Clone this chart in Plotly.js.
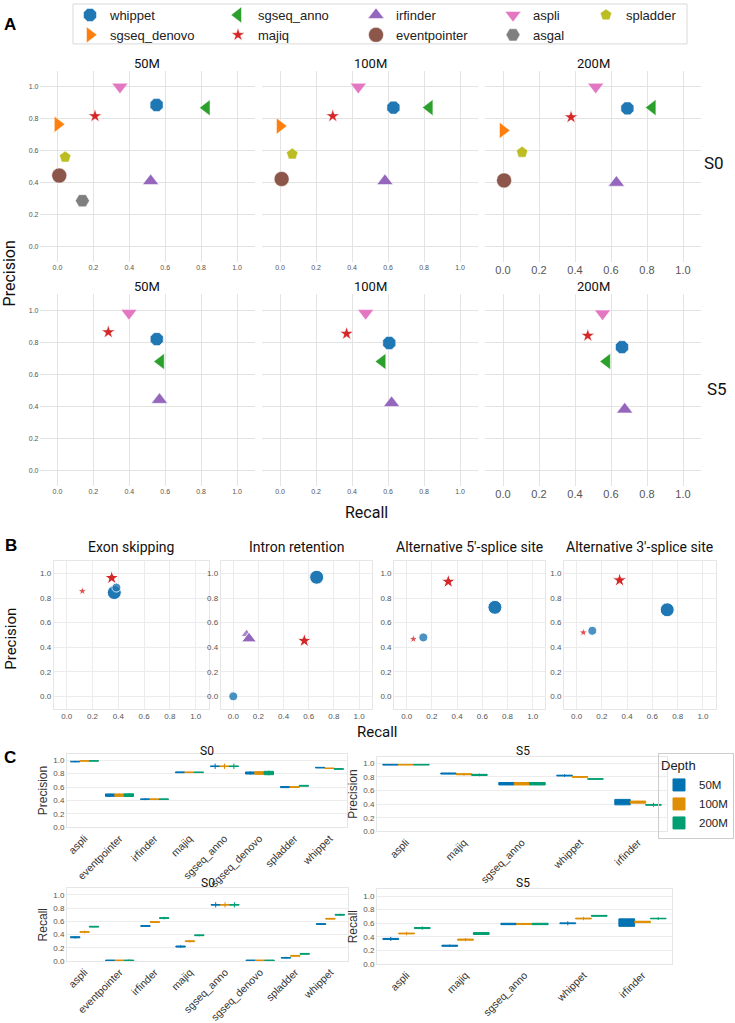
<!DOCTYPE html>
<html>
<head>
<meta charset="utf-8">
<script src="https://cdn.plot.ly/plotly-3.0.1.min.js"></script>
<style>body{margin:0;background:#fff}</style>
</head>
<body>
<div id="fig" style="width:735px;height:1023px"></div>
<script>
// ---- panel A data (order of tools, null = tool not in that run) ----
const tools = ['whippet','sgseq_denovo','sgseq_anno','majiq','irfinder','eventpointer','aspli','asgal','spladder']
const depths = ['50M','100M','200M']

const recallS0_50M     = [0.552, 0.002, 0.83, 0.209, 0.519, 0.01, 0.348, 0.139, 0.043]
const precisionS0_50M  = [0.886, 0.765, 0.869, 0.817, 0.41, 0.444, 1.0, 0.287, 0.56]
const recallS0_100M    = [0.63, 0.0, 0.83, 0.293, 0.583, 0.009, 0.435, null, 0.068]
const precisionS0_100M = [0.87, 0.754, 0.87, 0.817, 0.41, 0.423, 1.0, null, 0.579]
const recallS0_200M    = [0.691, 0.0, 0.83, 0.378, 0.63, 0.006, 0.515, null, 0.106]
const precisionS0_200M = [0.865, 0.727, 0.87, 0.81, 0.40, 0.414, 1.0, null, 0.59]

const recallS5_50M     = [0.553, null, 0.575, 0.283, 0.568, null, 0.398, null, null]
const precisionS5_50M  = [0.82, null, 0.68, 0.864, 0.44, null, 0.983, null, null]
const recallS5_100M    = [0.607, null, 0.568, 0.37, 0.62, null, 0.476, null, null]
const precisionS5_100M = [0.796, null, 0.68, 0.854, 0.42, null, 0.983, null, null]
const recallS5_200M    = [0.661, null, 0.577, 0.471, 0.676, null, 0.553, null, null]
const precisionS5_200M = [0.77, null, 0.68, 0.842, 0.38, null, 0.98, null, null]

// ---- panel B data ----
const esTool = ['majiq','majiq','whippet','whippet']
const esSet  = ['small','large','large','small']
const esRecall    = [0.121, 0.349, 0.369, 0.385]
const esPrecision = [0.857, 0.965, 0.845, 0.886]

const irTool = ['whippet','whippet','irfinder','irfinder','majiq','majiq']
const irSet  = ['large','small','small','large','small','large']
const irRecall    = [0.663, 0.0, 0.106, 0.125, 0.56, 0.565]
const irPrecision = [0.97, 0.0, 0.507, 0.47, 0.46, 0.453]

const a5Tool = ['majiq','whippet','whippet','majiq']
const a5Set  = ['large','large','small','small']
const a5Recall    = [0.33, 0.70, 0.132, 0.053]
const a5Precision = [0.935, 0.725, 0.48, 0.467]

const a3Tool = ['majiq','whippet','whippet','majiq']
const a3Set  = ['large','large','small','small']
const a3Recall    = [0.34, 0.717, 0.124, 0.053]
const a3Precision = [0.946, 0.705, 0.534, 0.52]

// ---- panel C data: [50M, 100M, 200M] ----
const s0Tools = ['aspli','eventpointer','irfinder','majiq','sgseq_anno','sgseq_denovo','spladder','whippet']
const s5Tools = ['aspli','majiq','sgseq_anno','whippet','irfinder']

const precS0Median = [[0.98,0.48,0.42,0.82,0.91,0.81,0.60,0.89],[0.99,0.48,0.42,0.82,0.91,0.81,0.60,0.88],[0.99,0.48,0.42,0.82,0.91,0.81,0.62,0.87]]
const precS0Box    = [[0.004,0.018,0.003,0.006,0.004,0.015,0.008,0.004],[0.003,0.018,0.003,0.004,0.004,0.02,0.006,0.003],[0.003,0.02,0.003,0.004,0.004,0.025,0.006,0.004]]
const precS0Whisk  = [[0.012,0.025,0.015,0.008,0.04,0.025,0.01,0.006],[0.005,0.025,0.015,0.008,0.04,0.03,0.008,0.004],[0.005,0.028,0.004,0.006,0.04,0.035,0.008,0.012]]

const precS5Median = [[0.98,0.85,0.70,0.82,0.43],[0.98,0.84,0.70,0.80,0.43],[0.98,0.83,0.70,0.77,0.39]]
const precS5Box    = [[0.005,0.008,0.018,0.006,0.04],[0.004,0.008,0.018,0.006,0.015],[0.004,0.008,0.018,0.004,0.006]]
const precS5Whisk  = [[0.006,0.01,0.02,0.02,0.045],[0.005,0.02,0.02,0.008,0.02],[0.005,0.02,0.02,0.005,0.03]]

const recS0Median = [[0.36,0.01,0.53,0.22,0.85,0.01,0.05,0.56],[0.44,0.01,0.59,0.30,0.85,0.01,0.08,0.64],[0.52,0.01,0.65,0.39,0.85,0.01,0.11,0.70]]
const recS0Box    = [[0.008,0.006,0.006,0.008,0.004,0.006,0.004,0.006],[0.004,0.006,0.006,0.006,0.004,0.006,0.006,0.006],[0.006,0.006,0.006,0.006,0.004,0.006,0.006,0.006]]
const recS0Whisk  = [[0.02,0.006,0.008,0.02,0.04,0.006,0.015,0.012],[0.02,0.006,0.008,0.02,0.04,0.006,0.008,0.008],[0.01,0.015,0.02,0.015,0.04,0.006,0.008,0.015]]

const recS5Median = [[0.37,0.27,0.59,0.60,0.61],[0.45,0.36,0.59,0.67,0.62],[0.53,0.45,0.59,0.71,0.67]]
const recS5Box    = [[0.008,0.008,0.01,0.006,0.055],[0.006,0.008,0.008,0.006,0.01],[0.008,0.015,0.01,0.006,0.004]]
const recS5Whisk  = [[0.03,0.02,0.012,0.03,0.06],[0.025,0.025,0.01,0.025,0.012],[0.025,0.02,0.01,0.008,0.02]]

// ---- styles ----
const toolStyle = {
  whippet:      {color:'#1f77b4', symbol:'octagon', size:14},
  sgseq_denovo: {color:'#ff7f0e', symbol:'triangle-right', size:14},
  sgseq_anno:   {color:'#2ca02c', symbol:'triangle-left', size:14},
  majiq:        {color:'#d62728', symbol:'star', size:10},
  irfinder:     {color:'#9467bd', symbol:'triangle-up', size:14},
  eventpointer: {color:'#8c564b', symbol:'circle', size:15},
  aspli:        {color:'#e377c2', symbol:'triangle-down', size:14},
  asgal:        {color:'#7f7f7f', symbol:'hexagon2', size:14},
  spladder:     {color:'#bcbd22', symbol:'pentagon', size:12}
}
const bSize = {whippet:{large:14, small:9}, majiq:{large:11, small:7}, irfinder:{large:13, small:10}}
const depthColor = ['#0173b2','#de8f05','#029e73']

const W = 735, H = 1023
const fx = p => p / W
const fy = p => 1 - p / H
const TICK = 'Liberation Sans, Arial, sans-serif'
const TITLE = 'Roboto, Liberation Sans, sans-serif'

const data = []
const layout = {
  width: W, height: H,
  margin: {l:0, r:0, t:0, b:0},
  paper_bgcolor: 'white', plot_bgcolor: 'white',
  font: {family: TICK, color: '#222'},
  boxmode: 'group', boxgap: 0.2, boxgroupgap: 0,
  annotations: [], shapes: []
}

// ---- panel A ----
const aPanels = [
  [recallS0_50M, precisionS0_50M], [recallS0_100M, precisionS0_100M], [recallS0_200M, precisionS0_200M],
  [recallS5_50M, precisionS5_50M], [recallS5_100M, precisionS5_100M], [recallS5_200M, precisionS5_200M]
]
const aCols = [[39.5,255], [262,478], [485,701]]
const aRows = [[69,261], [293,485]]

aPanels.forEach(([rec, prec], p) => {
  const n = p + 1
  const col = p % 3, row = Math.floor(p / 3)
  tools.forEach((tool, i) => {
    if (rec[i] === null) return
    const st = toolStyle[tool]
    data.push({
      type: 'scatter', mode: 'markers',
      x: [rec[i]], y: [prec[i]],
      xaxis: 'x' + n, yaxis: 'y' + n,
      name: tool, legendgroup: tool, showlegend: p === 0,
      legend: i < 2 ? 'legend' : 'legend' + (Math.floor(i / 2) + 1),
      marker: {symbol: st.symbol, color: st.color, size: st.size, line: {color: 'white', width: 0.5}}
    })
  })
  const fs = col === 2 ? 11 : 7
  layout['xaxis' + n] = {
    domain: [fx(aCols[col][0]), fx(aCols[col][1])], anchor: 'y' + n,
    range: [-0.1, 1.1], dtick: 0.2, tick0: 0, tickformat: '.1f',
    showgrid: true, gridcolor: '#e3e3e3', zeroline: false, showline: false, ticks: '',
    tickfont: {size: fs, color: '#555'}
  }
  layout['yaxis' + n] = {
    domain: [fy(aRows[row][1]), fy(aRows[row][0])], anchor: 'x' + n,
    range: [-0.1, 1.1], dtick: 0.2, tick0: 0, tickformat: '.1f',
    showgrid: true, gridcolor: '#e3e3e3', zeroline: false, showline: false, ticks: '',
    showticklabels: col === 0, tickfont: {size: 7, color: '#555'}
  }
})

// legend columns for panel A
const legendX = [92, 240, 378, 515, 608]
legendX.forEach((mx, k) => {
  layout[k === 0 ? 'legend' : 'legend' + (k + 1)] = {
    x: fx(mx - 22), y: fy(-2), xanchor: 'left', yanchor: 'top',
    orientation: 'v', bgcolor: 'rgba(0,0,0,0)', tracegroupgap: 0,
    font: {family: TICK, size: 13, color: '#222'}
  }
})
layout.shapes.push({type: 'rect', xref: 'paper', yref: 'paper',
  x0: fx(73), x1: fx(687), y0: fy(42), y1: fy(2), line: {color: '#d9d9d9', width: 1}})

// ---- panel B ----
const bPanels = [
  {tool: esTool, set: esSet, rec: esRecall, prec: esPrecision},
  {tool: irTool, set: irSet, rec: irRecall, prec: irPrecision},
  {tool: a5Tool, set: a5Set, rec: a5Recall, prec: a5Precision},
  {tool: a3Tool, set: a3Set, rec: a3Recall, prec: a3Precision}
]
const bCols = [[53.8,208.6], [220.7,371.6], [394.1,545.3], [564,715.6]]
bPanels.forEach((b, k) => {
  const n = 7 + k
  data.push({
    type: 'scatter', mode: 'markers', x: b.rec, y: b.prec,
    xaxis: 'x' + n, yaxis: 'y' + n, showlegend: false,
    marker: {
      symbol: b.tool.map(t => t === 'whippet' ? 'circle' : toolStyle[t].symbol),
      color: b.tool.map(t => toolStyle[t].color),
      size: b.tool.map((t, i) => bSize[t][b.set[i]]),
      opacity: b.set.map(s => s === 'large' ? 1 : 0.8),
      line: {color: 'white', width: 1}
    }
  })
  const common = {
    range: [-0.1, 1.1], dtick: 0.2, tick0: 0, tickformat: '.1f',
    showgrid: true, gridcolor: '#ececec', zeroline: false, ticks: '',
    showline: true, mirror: true, linecolor: '#e6e6e6', linewidth: 1,
    tickfont: {size: 8, color: '#555'}
  }
  layout['xaxis' + n] = Object.assign({domain: [fx(bCols[k][0]), fx(bCols[k][1])], anchor: 'y' + n}, common)
  layout['yaxis' + n] = Object.assign({domain: [fy(708), fy(560.4)], anchor: 'x' + n}, common)
})

// ---- panel C ----
const cPanels = [
  {cats: s0Tools, med: precS0Median, box: precS0Box, whisk: precS0Whisk, title: 'Precision', dom: [67,347,753,827]},
  {cats: s5Tools, med: precS5Median, box: precS5Box, whisk: precS5Whisk, title: 'Precision', dom: [377,667,756,831]},
  {cats: s0Tools, med: recS0Median, box: recS0Box, whisk: recS0Whisk, title: 'Recall', dom: [67,348,888,961]},
  {cats: s5Tools, med: recS5Median, box: recS5Box, whisk: recS5Whisk, title: 'Recall', dom: [377,672,889,964]}
]
cPanels.forEach((c, k) => {
  const n = 11 + k
  depths.forEach((d, j) => {
    const med = c.med[j], bx = c.box[j], wh = c.whisk[j]
    data.push({
      type: 'box', x: c.cats,
      q1: med.map((m, i) => m - bx[i]), median: med, q3: med.map((m, i) => m + bx[i]),
      lowerfence: med.map((m, i) => m - Math.max(wh[i], bx[i])),
      upperfence: med.map((m, i) => m + Math.max(wh[i], bx[i])),
      name: d, offsetgroup: d, legendgroup: 'depth' + d, legend: 'legend6',
      showlegend: k === 0, boxpoints: false, whiskerwidth: 0,
      fillcolor: depthColor[j], line: {color: depthColor[j], width: 1},
      marker: {color: depthColor[j]},
      xaxis: 'x' + n, yaxis: 'y' + n
    })
  })
  layout['xaxis' + n] = {
    domain: [fx(c.dom[0]), fx(c.dom[1])], anchor: 'y' + n,
    type: 'category', categoryorder: 'array', categoryarray: c.cats,
    showgrid: false, zeroline: false, ticks: '', tickangle: -45,
    showline: true, mirror: true, linecolor: '#e6e6e6',
    tickfont: {size: 10.5, color: '#333'}
  }
  layout['yaxis' + n] = {
    domain: [fy(c.dom[3]), fy(c.dom[2])], anchor: 'x' + n,
    range: [0, 1.1], dtick: 0.2, tick0: 0, tickformat: '.1f',
    showgrid: true, gridcolor: '#ececec', zeroline: false, ticks: '',
    showline: true, mirror: true, linecolor: '#e6e6e6',
    tickfont: {size: 8, color: '#555'},
    title: {text: c.title, font: {size: 12, color: '#333'}, standoff: 3}
  }
})
layout.legend6 = {
  x: fx(734), y: fy(752), xanchor: 'right', yanchor: 'top',
  orientation: 'v', bgcolor: 'rgba(255,255,255,0)', bordercolor: '#cccccc', borderwidth: 1,
  title: {text: 'Depth', font: {size: 13, color: '#222'}},
  font: {family: TICK, size: 11.5, color: '#222'}, tracegroupgap: 0
}

// ---- text labels ----
const note = (text, x, y, size, extra) => layout.annotations.push(Object.assign({
  text: text, x: fx(x), y: fy(y), xref: 'paper', yref: 'paper',
  showarrow: false, xanchor: 'center', yanchor: 'middle',
  font: {family: TITLE, size: size, color: '#111'}
}, extra || {}))

note('<b>A</b>', 10, 23, 17, {font: {family: TICK, size: 17, color: '#000'}})
note('<b>B</b>', 11, 545, 17, {font: {family: TICK, size: 17, color: '#000'}})
note('<b>C</b>', 10, 757, 17, {font: {family: TICK, size: 17, color: '#000'}})

;['50M','100M','200M'].forEach((d, i) => {
  const cx = (aCols[i][0] + aCols[i][1]) / 2
  note(d, cx, 62, 13)
  note(d, cx, 285, 13)
})
note('S0', 714, 161, 17)
note('S5', 717, 388, 17)
note('Precision', 9, 272, 16, {textangle: -90})
note('Recall', 366, 512, 16)

const bTitles = ['Exon skipping', 'Intron retention', "Alternative 5'-splice site", "Alternative 3'-splice site"]
bTitles.forEach((t, k) => note(t, (bCols[k][0] + bCols[k][1]) / 2, 546, 14))
note('Precision', 11, 638, 15, {textangle: -90})
note('Recall', 377, 731, 15)

note('S0', 207, 750, 12)
note('S5', 523, 750, 12)
note('S0', 208, 883, 12)
note('S5', 523, 883, 12)

Plotly.newPlot('fig', data, layout, {staticPlot: true})
</script>
</body>
</html>
